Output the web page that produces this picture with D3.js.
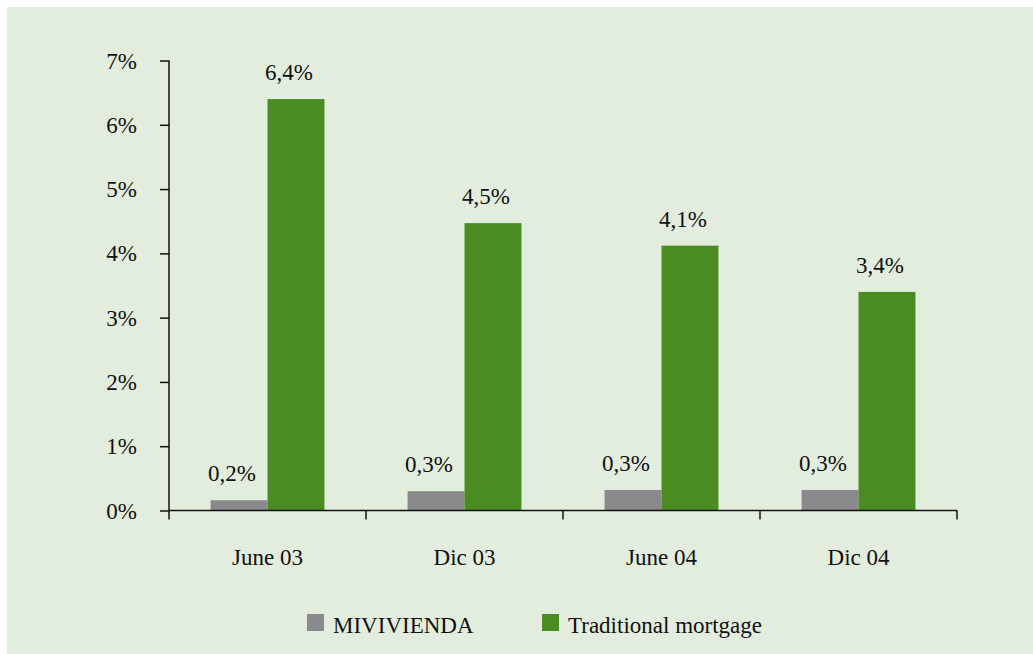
<!DOCTYPE html>
<html><head><meta charset="utf-8">
<script src="https://cdn.jsdelivr.net/npm/d3@7"></script>
<style>body{margin:0;background:#fff}svg{display:block}text{font-family:"Liberation Serif","DejaVu Serif",serif;fill:#111}</style>
</head><body><svg id="c" width="1033" height="654"></svg>
<script>
const categories = ["June 03","Dic 03","June 04","Dic 04"];
const seriesNames = ["MIVIVIENDA","Traditional mortgage"];
const mivivienda = [0.16,0.30,0.32,0.32];
const traditional = [6.4,4.47,4.12,3.4];
const miviviendaLabels = ["0,2%","0,3%","0,3%","0,3%"];
const traditionalLabels = ["6,4%","4,5%","4,1%","3,4%"];
const yTicks = [0,1,2,3,4,5,6,7];
const colors = ["#8a8a8c","#4a8c22"];
const FS = 23;

const svg = d3.select("#c");
svg.append("rect").attr("x",7).attr("y",7).attr("width",1026).attr("height",647).attr("fill","#e3edde");

const x0 = d3.scaleBand().domain(categories).range([169,957]).paddingInner(0).paddingOuter(0);
const x1 = d3.scaleBand().domain(seriesNames).range([0,x0.bandwidth()]).paddingInner(0).paddingOuter(0.73);
const y = d3.scaleLinear().domain([0,7]).range([510.5,60.5]);

const g = svg.append("g");
const series = [mivivienda, traditional];
const labels = [miviviendaLabels, traditionalLabels];
series.forEach((vals,si)=>{
  g.selectAll(null).data(vals).enter().append("rect")
    .attr("x",(d,i)=>x0(categories[i])+x1(seriesNames[si]))
    .attr("width",x1.bandwidth())
    .attr("y",d=>y(d))
    .attr("height",d=>y(0)-y(d))
    .attr("fill",colors[si]);
  g.selectAll(null).data(vals).enter().append("text")
    .attr("x",(d,i)=>x0(categories[i])+x1(seriesNames[si])+x1.bandwidth()/2-7)
    .attr("y",d=>y(d)-19)
    .attr("text-anchor","middle").attr("font-size",FS)
    .text((d,i)=>labels[si][i]);
});

const yAxis = svg.append("g").attr("transform","translate(169,0)")
  .call(d3.axisLeft(y).tickValues(yTicks).tickSize(9).tickPadding(23).tickFormat(d=>d+"%"));
yAxis.selectAll("text").attr("font-size",FS).attr("dy","0.33em");
const xAxis = svg.append("g").attr("transform","translate(0,510.5)")
  .call(d3.axisBottom(x0).tickSize(0).tickPadding(38));
xAxis.selectAll("text").attr("font-size",FS).attr("dy","0.71em");
const bounds = categories.map(c=>x0(c)).concat([x0.range()[1]]);
xAxis.selectAll(".bt").data(bounds).enter().append("line")
  .attr("x1",d=>d).attr("x2",d=>d).attr("y1",0).attr("y2",9).attr("stroke","#111").attr("stroke-width",1.5);
[yAxis,xAxis].forEach(a=>{a.selectAll("path,line").attr("stroke","#111").attr("stroke-width",1.5);});
yAxis.select(".domain").attr("d","M0,60.5V510.5");
xAxis.select(".domain").attr("d","M169,0H957");

const legend = svg.append("g");
const lx = [307,542];
seriesNames.forEach((n,i)=>{
  legend.append("rect").attr("x",lx[i]).attr("y",614).attr("width",17).attr("height",17).attr("fill",colors[i]);
  legend.append("text").attr("x",lx[i]+26).attr("y",633).attr("font-size",FS).text(n);
});
</script></body></html>
